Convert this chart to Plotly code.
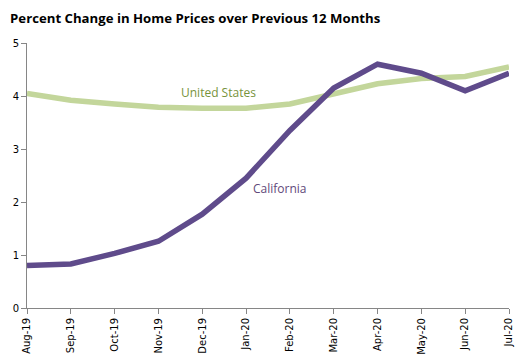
import plotly.graph_objects as go

months = ["Aug-19", "Sep-19", "Oct-19", "Nov-19", "Dec-19", "Jan-20", "Feb-20",
          "Mar-20", "Apr-20", "May-20", "Jun-20", "Jul-20"]
california = [0.80, 0.83, 1.03, 1.26, 1.77, 2.45, 3.35, 4.15, 4.60, 4.43, 4.10, 4.43]
united_states = [4.05, 3.92, 3.85, 3.79, 3.77, 3.77, 3.85, 4.03, 4.23, 4.33, 4.37, 4.55]

xs = list(range(len(months)))

fig = go.Figure()
fig.add_trace(go.Scatter(x=xs, y=united_states, mode="lines", name="United States",
                         line=dict(color="#C3D69B", width=5.5), cliponaxis=False))
fig.add_trace(go.Scatter(x=xs, y=california, mode="lines", name="California",
                         line=dict(color="#5F4B8B", width=5.5), cliponaxis=False))

fig.add_annotation(x=4.36, y=4.07, text="United States", showarrow=False,
                   font=dict(family="Open Sans", size=12, color="#77933C"), xanchor="center", yanchor="middle")
fig.add_annotation(x=5.78, y=2.26, text="California", showarrow=False,
                   font=dict(family="Open Sans", size=12, color="#5F497A"), xanchor="center", yanchor="middle")

# page body has an 8px default margin, so the figure is sized/offset to compensate
fig.update_layout(
    width=521, height=355,
    margin=dict(l=19, r=20, t=35, b=55),
    paper_bgcolor="white", plot_bgcolor="white",
    showlegend=False,
    title=dict(text="<b>Percent Change in Home Prices over Previous 12 Months</b>",
               x=0.004, xanchor="left", y=0.972, yanchor="middle",
               font=dict(family="Open Sans", size=13.2, color="black")),
)
fig.update_xaxes(range=[0, 11], tickvals=xs, ticktext=months, tickangle=-90, automargin=False,
                 showgrid=False, zeroline=False, showline=True, linecolor="#868686", linewidth=1,
                 ticks="outside", ticklen=5, tickcolor="#868686",
                 tickfont=dict(family="DejaVu Sans", size=10, color="black"))
fig.update_yaxes(range=[0, 5], dtick=1, showgrid=False, zeroline=False, showline=True, automargin=False,
                 linecolor="#868686", linewidth=1, ticks="outside", ticklen=5, tickcolor="#868686",
                 tickfont=dict(family="DejaVu Sans", size=10, color="black"))

fig.write_html("out.html")
